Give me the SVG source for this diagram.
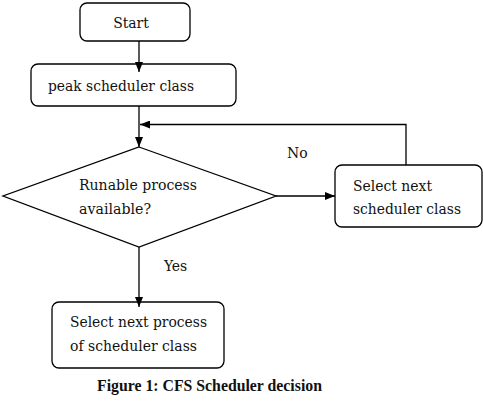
<svg xmlns="http://www.w3.org/2000/svg" width="483" height="412" viewBox="0 0 483 412">
<style>
.box{fill:#fff;stroke:#000;stroke-width:1.3}
.lbl{font-family:'DejaVu Serif Condensed','DejaVu Serif',serif;font-stretch:condensed;font-size:15.5px;fill:#111}
.cap{font-family:'Liberation Serif',serif;font-size:15.8px;font-weight:bold;fill:#111}
.c{fill:none;stroke:#000;stroke-width:1.3}
</style>
<defs>
<marker id="ah" viewBox="0 0 10 8" refX="10" refY="4" markerWidth="10" markerHeight="8" markerUnits="userSpaceOnUse" orient="auto">
<path d="M0,0 L10,4 L0,8 Z" fill="#000"/>
</marker>
</defs>
<g id="start"><rect class="box" x="80" y="3" width="110" height="38" rx="7"/><text class="lbl" x="131" y="28" text-anchor="middle">Start</text></g>
<g id="peak"><rect class="box" x="31" y="64" width="205" height="42" rx="7"/><text class="lbl" x="48" y="91" textLength="146" lengthAdjust="spacingAndGlyphs">peak scheduler class</text></g>
<g id="decision"><polygon class="box" points="139,147 276,196 139,247 3,196"/><text class="lbl" x="79" y="190" textLength="118" lengthAdjust="spacingAndGlyphs">Runable process</text><text class="lbl" x="79" y="214" textLength="72" lengthAdjust="spacingAndGlyphs">available?</text></g>
<g id="nextclass"><rect class="box" x="335" y="165" width="147" height="62" rx="7"/><text class="lbl" x="353" y="191" textLength="79" lengthAdjust="spacingAndGlyphs">Select next</text><text class="lbl" x="353" y="214" textLength="108" lengthAdjust="spacingAndGlyphs">scheduler class</text></g>
<g id="nextproc"><rect class="box" x="52" y="302" width="172" height="66" rx="7"/><text class="lbl" x="70" y="327" textLength="137" lengthAdjust="spacingAndGlyphs">Select next process</text><text class="lbl" x="70" y="351" textLength="127" lengthAdjust="spacingAndGlyphs">of scheduler class</text></g>
<g id="connectors">
<line class="c" x1="139" y1="41" x2="139" y2="72" marker-end="url(#ah)"/>
<line class="c" x1="139" y1="106" x2="139" y2="147" marker-end="url(#ah)"/>
<polyline class="c" points="406,165 406,124.5 140,124.5" marker-end="url(#ah)"/>
<line class="c" x1="276" y1="196" x2="335" y2="196" marker-end="url(#ah)"/>
<line class="c" x1="139" y1="247" x2="139" y2="307" marker-end="url(#ah)"/>
</g>
<g id="labels">
<text class="lbl" x="287" y="158">No</text>
<text class="lbl" x="164" y="271">Yes</text>
<text class="cap" x="97" y="391">Figure 1: CFS Scheduler decision</text>
</g>
</svg>
